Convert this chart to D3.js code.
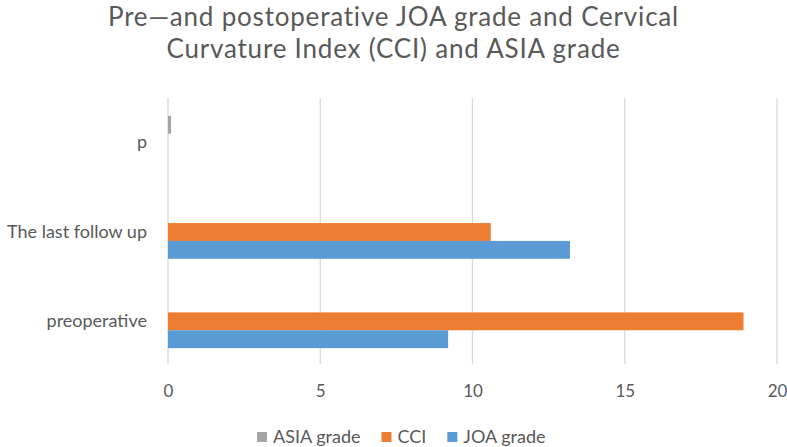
<!DOCTYPE html>
<html>
<head>
<meta charset="utf-8">
<script src="https://cdn.jsdelivr.net/npm/d3@7"></script>
<style>
  body { margin: 0; background: #fff; }
  text { font-family: Lato, "Open Sans", sans-serif; fill: #595959; }
</style>
</head>
<body>
<div id="chart"></div>
<script>
// chart data
let categories = ["p", "The last follow up", "preoperative"];
let seriesNames = ["ASIA grade", "CCI", "JOA grade"];
let asiaValues = [0.1, 0, 0];
let cciValues = [0, 10.6, 18.9];
let joaValues = [0, 13.2, 9.2];
let xTicks = [0, 5, 10, 15, 20];
let colors = ["#A5A5A5", "#ED7D31", "#5B9BD5"];
let titleLines = ["Pre\u2014and postoperative JOA grade and Cervical", "Curvature Index (CCI) and ASIA grade"];

let width = 787, height = 447;

let svg = d3.select("#chart").append("svg")
    .attr("width", width)
    .attr("height", height);

let xScale = d3.scaleLinear()
    .domain([0, 20])
    .range([168, 777]);

let yScale = d3.scaleBand()
    .domain(categories)
    .range([98, 366])
    .paddingInner(0.4)
    .paddingOuter(0.2);

let ySub = d3.scaleBand()
    .domain(seriesNames)
    .range([0, yScale.bandwidth()]);

// gridlines
svg.append("g").selectAll("line")
    .data(xTicks)
    .enter().append("line")
    .attr("x1", d => xScale(d)).attr("x2", d => xScale(d))
    .attr("y1", 98).attr("y2", 364)
    .attr("stroke", "#D9D9D9")
    .attr("stroke-width", 1.3);

// bars
let rows = categories.map((c, i) => ({
    cat: c,
    vals: [asiaValues[i], cciValues[i], joaValues[i]]
}));

let groups = svg.append("g").selectAll("g")
    .data(rows)
    .enter().append("g")
    .attr("transform", d => "translate(0," + yScale(d.cat) + ")");

groups.selectAll("rect")
    .data(d => d.vals.map((v, j) => ({name: seriesNames[j], value: v, color: colors[j]})))
    .enter().append("rect")
    .attr("x", xScale(0))
    .attr("y", d => ySub(d.name))
    .attr("width", d => xScale(d.value) - xScale(0))
    .attr("height", ySub.bandwidth())
    .attr("fill", d => d.color);

// x axis labels
let xAxis = d3.axisBottom(xScale).tickValues(xTicks).tickSize(0).tickPadding(0);
let xAxisGroup = svg.append("g")
    .attr("transform", "translate(0,385)")
    .call(xAxis);
xAxisGroup.select(".domain").remove();
xAxisGroup.selectAll("text")
    .attr("font-size", "17px")
    .style("font-family", "Lato, 'Open Sans', sans-serif")
    .attr("fill", "#595959");

// category labels
let yAxis = d3.axisLeft(yScale).tickSize(0).tickPadding(21);
let yAxisGroup = svg.append("g")
    .attr("transform", "translate(168,0)")
    .call(yAxis);
yAxisGroup.select(".domain").remove();
yAxisGroup.selectAll("text")
    .attr("font-size", "18px")
    .style("font-family", "Lato, 'Open Sans', sans-serif")
    .attr("fill", "#595959");

// title
let title = svg.append("g");
title.selectAll("text")
    .data(titleLines)
    .enter().append("text")
    .attr("x", 393.5)
    .attr("y", (d, i) => 26 + i * 31.5)
    .attr("text-anchor", "middle")
    .attr("font-size", "26px")
    .attr("letter-spacing", "0.8px")
    .text(d => d);

// legend
let legend = svg.append("g");
let lx = 257;
seriesNames.forEach((name, i) => {
    legend.append("rect")
        .attr("x", lx).attr("y", 432)
        .attr("width", 10).attr("height", 10)
        .attr("fill", colors[i]);
    let t = legend.append("text")
        .attr("x", lx + 16).attr("y", 443)
        .attr("font-size", "18px")
        .text(name);
    lx += 16 + t.node().getComputedTextLength() + 21;
});
</script>
</body>
</html>
